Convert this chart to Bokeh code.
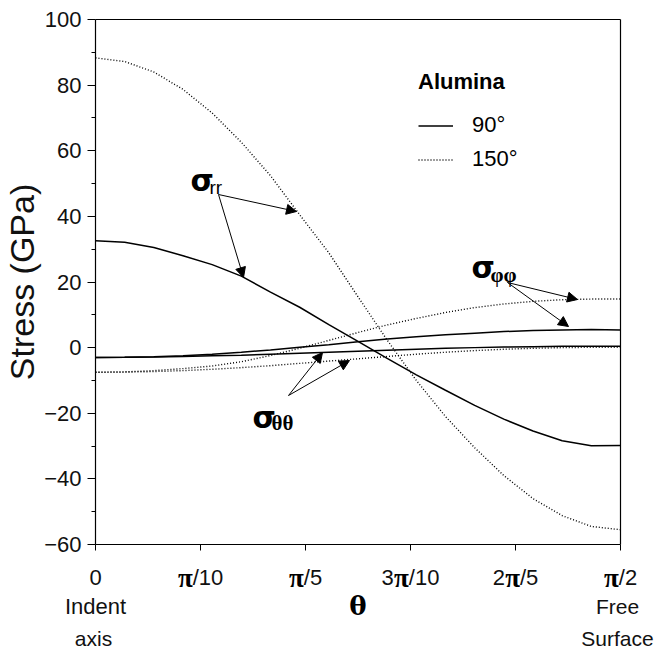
import numpy as np
from bokeh.plotting import figure
from bokeh.models import FixedTicker, Label, Arrow, NormalHead, Legend, LegendItem, Range1d, LinearAxis
from bokeh.embed import file_html
from bokeh.resources import INLINE

# ---- data ----
theta_deg = [0, 5, 10, 15, 20, 25, 30, 35, 40, 45, 50, 55, 60, 65, 70, 75, 80, 85, 90]
rr_90 = [32.6, 32.1, 30.5, 28.0, 25.3, 21.8, 16.9, 12.3, 7.0, 1.9, -3.3, -8.3, -13.0, -17.6, -21.8, -25.4, -28.4, -29.9, -29.8]
rr_150 = [88.3, 87.2, 84.0, 78.7, 71.5, 62.6, 52.4, 40.5, 28.9, 15.5, 2.3, -10.0, -21.0, -30.5, -39.0, -46.0, -51.2, -54.5, -55.5]
pp_90 = [-3.0, -2.95, -2.8, -2.5, -2.0, -1.4, -0.7, 0.1, 0.9, 1.8, 2.6, 3.3, 3.9, 4.4, 4.9, 5.2, 5.4, 5.5, 5.4]
pp_150 = [-7.5, -7.4, -7.0, -6.4, -5.6, -4.3, -2.4, -0.2, 2.2, 4.6, 6.9, 8.9, 10.7, 12.2, 13.3, 14.1, 14.6, 14.8, 14.8]
tt_90 = [-3.0, -2.95, -2.85, -2.7, -2.5, -2.3, -2.0, -1.7, -1.4, -1.1, -0.8, -0.5, -0.2, 0.0, 0.2, 0.3, 0.4, 0.45, 0.45]
tt_150 = [-7.5, -7.45, -7.3, -7.0, -6.6, -6.1, -5.5, -4.8, -4.1, -3.4, -2.7, -2.0, -1.4, -0.9, -0.5, -0.2, 0.0, 0.1, 0.1]

x_tick_values = [0, np.pi / 10, np.pi / 5, 3 * np.pi / 10, 2 * np.pi / 5, np.pi / 2]
x_tick_coef = ["", "", "", "3", "2", ""]
x_tick_pi = ["", "π", "π", "π", "π", "π"]
x_tick_rest = ["0", "/10", "/5", "/10", "/5", "/2"]
y_ticks = [-60, -40, -20, 0, 20, 40, 60, 80, 100]
y_minor = [-50, -30, -10, 10, 30, 50, 70, 90]

theta = np.radians(theta_deg)

# ---- layout constants (pixels) ----
W, H = 655, 650
FL, FR, FT, FB = 95, 620, 19, 544        # the drawn plot box
XMIN, XMAX = 0.0, np.pi / 2
YMIN, YMAX = -60, 100
SX = (FR - FL) / (XMAX - XMIN)
SY = (FB - FT) / (YMAX - YMIN)


def X(px):
    return XMIN + (px - FL) / SX


def Y(py):
    return YMAX - (py - FT) / SY


SANS = "Liberation Sans"
SERIF = "DejaVu Serif"
INK = "#111111"

# the frame covers the whole canvas; axes are pinned to the plot box edges
p = figure(width=W, height=H, output_backend="svg", toolbar_location=None,
           x_range=Range1d(X(0), X(W)), y_range=Range1d(Y(H), Y(0)),
           min_border=0, min_border_left=0, min_border_right=0,
           min_border_top=0, min_border_bottom=0)
p.grid.visible = False
p.outline_line_color = None
p.background_fill_color = "white"
p.border_fill_color = "white"

# left axis
ya = p.yaxis[0]
ya.fixed_location = XMIN
ya.bounds = (YMIN, YMAX)
ya.ticker = FixedTicker(ticks=y_ticks, minor_ticks=y_minor)
ya.major_tick_out = 8
ya.major_tick_in = 0
ya.minor_tick_out = 4
ya.minor_tick_in = 0
ya.major_label_standoff = 6
ya.major_label_text_font = SANS
ya.major_label_text_font_size = "22px"
ya.major_label_text_color = INK
ya.axis_label = "Stress (GPa)"
ya.axis_label_text_font = SANS
ya.axis_label_text_font_size = "34px"
ya.axis_label_text_font_style = "normal"
ya.axis_label_text_color = INK
ya.axis_label_standoff = 0
ya.axis_line_width = 1.2

# bottom axis
xa = p.xaxis[0]
xa.fixed_location = YMIN
xa.bounds = (XMIN, XMAX)
xa.ticker = FixedTicker(ticks=x_tick_values, minor_ticks=[])
xa.major_tick_out = 6
xa.major_tick_in = 0
xa.major_label_text_color = None
xa.axis_line_width = 1.2

# top and right box edges
top = LinearAxis(fixed_location=YMAX, bounds=(XMIN, XMAX), ticker=FixedTicker(ticks=[], minor_ticks=[]),
                 major_tick_out=0, major_tick_in=0, minor_tick_out=0, minor_tick_in=0,
                 major_label_text_color=None, axis_line_width=1.2)
right = LinearAxis(fixed_location=XMAX, bounds=(YMIN, YMAX), ticker=FixedTicker(ticks=[], minor_ticks=[]),
                   major_tick_out=0, major_tick_in=0, minor_tick_out=0, minor_tick_in=0,
                   major_label_text_color=None, axis_line_width=1.2)
p.add_layout(top, "above")
p.add_layout(right, "right")

# curves
r90 = p.line(theta, rr_90, line_color="black", line_width=1.5)
r150 = p.line(theta, rr_150, line_color="black", line_width=1.4, line_dash="1 2")
p.line(theta, pp_90, line_color="black", line_width=1.5)
p.line(theta, pp_150, line_color="black", line_width=1.4, line_dash="1 2")
p.line(theta, tt_90, line_color="black", line_width=1.5)
p.line(theta, tt_150, line_color="black", line_width=1.4, line_dash="1 2")

# x tick labels (bold pi + light text), placed at the tick values
PI_W = 15
CHAR_W = 12.2


def text_w(s):
    return sum(6.1 if c == "/" else CHAR_W for c in s)


for xv, coef, pi, rest in zip(x_tick_values, x_tick_coef, x_tick_pi, x_tick_rest):
    wl = text_w(coef) + (PI_W if pi else 0)
    wr = text_w(rest)
    split = (wl - wr) / 2.0
    base_y = Y(577)
    p.add_layout(Label(x=xv, y=base_y, x_offset=split, text=rest, text_align="left",
                       text_baseline="alphabetic", text_font=SANS, text_font_size="22px",
                       text_color=INK))
    if pi:
        p.add_layout(Label(x=xv, y=base_y, x_offset=split, text=pi, text_align="right",
                           text_baseline="alphabetic", text_font="Liberation Serif",
                           text_font_style="bold", text_font_size="27px", text_color="black"))
    if coef:
        p.add_layout(Label(x=xv, y=base_y, x_offset=split - PI_W, text=coef, text_align="right",
                           text_baseline="alphabetic", text_font=SANS, text_font_size="22px",
                           text_color=INK))

# axis title theta and end notes
p.add_layout(Label(x=(XMIN + XMAX) / 2, y=Y(605), text="θ", text_align="center", text_baseline="alphabetic",
                   text_font=SERIF, text_font_style="bold", text_font_size="26px", text_color="black"))
for txt, xv, py, dx, fs in [("Indent", XMIN, 606, 0, "22px"), ("axis", XMIN, 638, -2, "21px"),
                            ("Free", XMAX, 606, -3, "21px"), ("Surface", XMAX, 638, -3, "21px")]:
    p.add_layout(Label(x=xv, y=Y(py), x_offset=dx, text=txt, text_align="center", text_baseline="alphabetic",
                       text_font=SANS, text_font_size=fs, text_color=INK))


# sigma labels
def sigma(px, py, sub, sub_font, sub_style, sub_size, sub_dy):
    p.add_layout(Label(x=X(px), y=Y(py), text="σ", text_align="left", text_baseline="alphabetic",
                       text_font="DejaVu Sans", text_font_style="bold", text_font_size="30px",
                       text_color="black"))
    p.add_layout(Label(x=X(px + 19), y=Y(py + sub_dy), text=sub, text_align="left",
                       text_baseline="alphabetic", text_font=sub_font, text_font_style=sub_style,
                       text_font_size=sub_size, text_color="black"))


sigma(190, 180, "rr", SANS, "normal", "19px", 7)
sigma(471, 267, "φφ", "Liberation Serif", "bold", "21px", 7)
sigma(252, 417, "θθ", "Liberation Serif", "bold", "21px", 5)

# arrows
arrows = [((218, 194), (296, 211)), ((218, 194), (243, 277)),
          ((507, 282), (577, 299)), ((507, 282), (568, 326)),
          ((288, 395), (322, 352)), ((288, 395), (349, 360))]
for (x0, y0), (x1, y1) in arrows:
    p.add_layout(Arrow(x_start=X(x0), y_start=Y(y0), x_end=X(x1), y_end=Y(y1),
                       line_color="black", line_width=1,
                       end=NormalHead(size=10, fill_color="black", line_color="black", line_width=1)))

# legend
legend = Legend(items=[LegendItem(label="90°", renderers=[r90]),
                       LegendItem(label="150°", renderers=[r150])],
                location=(418, 478), title="Alumina",
                title_text_font=SANS, title_text_font_style="bold", title_text_font_size="22px",
                title_text_color="black",
                label_text_font=SANS, label_text_font_size="22px", label_text_color="black",
                glyph_width=35, glyph_height=25, label_height=25, label_standoff=19,
                spacing=8, title_standoff=17, padding=0, margin=0,
                border_line_color=None, background_fill_alpha=0)
p.add_layout(legend)

open("out.html", "w").write(file_html(p, INLINE))
